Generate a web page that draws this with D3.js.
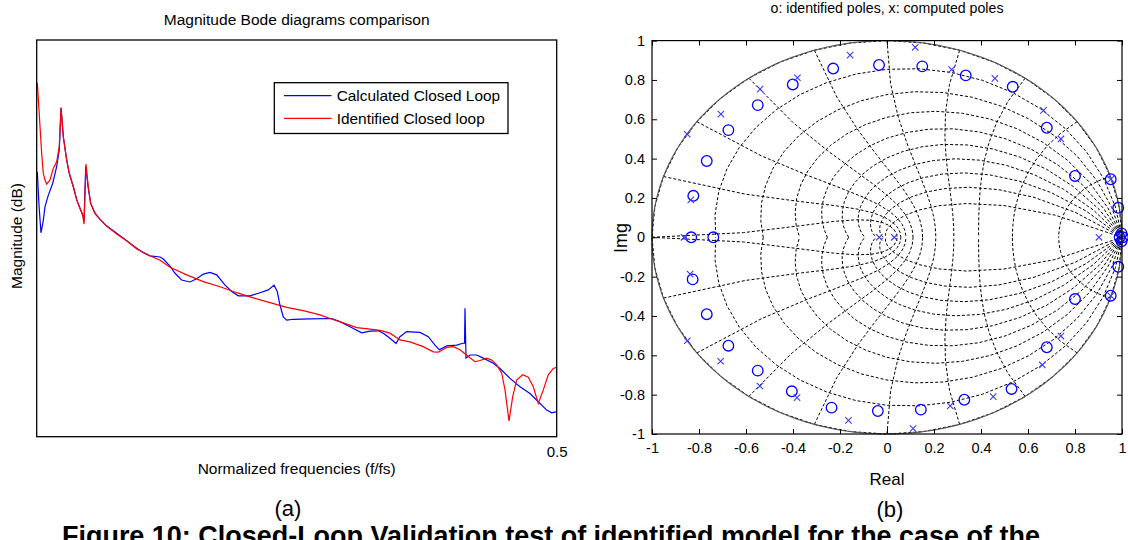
<!DOCTYPE html>
<html><head><meta charset="utf-8">
<script src="https://cdn.jsdelivr.net/npm/d3@7"></script>
<style>html,body{margin:0;padding:0;background:#fff;overflow:hidden}svg{display:block}</style>
</head><body><svg id="c" width="1128" height="540"></svg>
<script>
// ---------- Panel (a): magnitude Bode data ----------
const calcFreq = [0.0006,0.0022,0.0041,0.0061,0.0080,0.0112,0.0154,0.0192,0.0217,0.0234,0.0256,0.0288,0.0313,0.0352,0.0385,0.0416,0.0448,0.0455,0.0471,0.0496,0.0519,0.0561,0.0609,0.0673,0.0769,0.0865,0.0962,0.1025,0.1089,0.1186,0.1217,0.1282,0.1330,0.1394,0.1474,0.1538,0.1602,0.1666,0.1731,0.1811,0.1875,0.1938,0.2051,0.2147,0.2227,0.2282,0.2313,0.2339,0.2371,0.2404,0.2467,0.2628,0.2837,0.2916,0.3013,0.3125,0.3205,0.3285,0.3333,0.3397,0.3455,0.3493,0.3558,0.3686,0.3765,0.3830,0.3871,0.3942,0.4038,0.4089,0.4114,0.4118,0.4128,0.4167,0.4231,0.4294,0.4390,0.4455,0.4551,0.4647,0.4743,0.4823,0.4904,0.4952,0.5000];
const calcDb = [-13.2,-21.6,-28.6,-25.9,-22.0,-19.1,-16.1,-11.9,-7.7,2.9,-4.4,-10.2,-13.6,-17.0,-20.3,-22.4,-24.5,-25.8,-11.9,-17.4,-21.2,-23.7,-25.2,-26.9,-28.7,-30.6,-32.5,-33.6,-34.4,-34.7,-35.2,-37.0,-38.8,-40.5,-41.0,-40.2,-39.0,-38.6,-39.2,-41.8,-43.4,-44.5,-44.5,-43.7,-43.0,-41.8,-43.4,-46.8,-49.8,-50.6,-50.4,-50.3,-50.2,-51.0,-52.3,-53.8,-53.4,-53.3,-53.9,-55.2,-56.5,-54.8,-53.5,-53.7,-54.8,-56.9,-58.1,-57.1,-56.9,-56.5,-56.4,-47.6,-60.2,-59.4,-59.4,-60.2,-61.5,-62.8,-65.3,-67.4,-69.1,-71.2,-73.3,-74.0,-73.7];
const identFreq = [0.0006,0.0032,0.0048,0.0063,0.0080,0.0096,0.0128,0.0160,0.0192,0.0217,0.0234,0.0256,0.0288,0.0313,0.0352,0.0385,0.0416,0.0442,0.0455,0.0474,0.0496,0.0519,0.0561,0.0609,0.0673,0.0769,0.0865,0.0962,0.1089,0.1186,0.1282,0.1442,0.1602,0.1763,0.1923,0.2083,0.2243,0.2404,0.2563,0.2724,0.2820,0.2948,0.3077,0.3205,0.3301,0.3397,0.3493,0.3590,0.3717,0.3813,0.3862,0.3942,0.4006,0.4070,0.4150,0.4214,0.4263,0.4327,0.4375,0.4423,0.4471,0.4503,0.4541,0.4577,0.4615,0.4673,0.4727,0.4775,0.4823,0.4871,0.4919,0.4967,0.5000];
const identDb = [9.2,-1.9,-8.6,-13.6,-15.3,-16.3,-15.3,-12.3,-10.7,-6.9,2.9,-4.4,-10.2,-13.6,-17.0,-20.3,-22.4,-24.1,-26.4,-11.3,-17.0,-21.2,-23.7,-25.2,-26.9,-28.9,-30.6,-32.7,-34.4,-35.5,-37.3,-39.2,-40.9,-42.2,-43.7,-45.0,-46.2,-47.4,-48.2,-49.3,-50.2,-51.3,-52.5,-52.9,-53.2,-53.9,-55.6,-56.1,-57.3,-58.6,-58.7,-57.5,-57.3,-58.1,-59.8,-61.1,-60.8,-60.2,-60.7,-61.9,-64.0,-68.2,-76.0,-69.9,-65.7,-64.4,-65.0,-67.4,-71.6,-68.2,-64.4,-62.8,-62.5];
const legendLabels = ["Calculated Closed Loop", "Identified Closed loop"];
const bodeXTicks = [0.5];

// ---------- Panel (b): poles ----------
const identRe = [-0.824,-0.767,-0.675,-0.550,-0.401,-0.229,-0.034,0.150,0.335,0.535,0.680,0.800,0.952,0.984,
  -0.833,-0.739,0.990,0.998,0.998,1.004,
  -0.827,-0.767,-0.675,-0.550,-0.405,-0.236,-0.039,0.144,0.329,0.530,0.680,0.800,0.952,0.984];
const identIm = [0.211,0.388,0.545,0.672,0.777,0.858,0.876,0.869,0.823,0.765,0.557,0.312,0.295,0.150,
  0,0,0,0.02,-0.02,0,
  -0.214,-0.391,-0.551,-0.678,-0.783,-0.866,-0.883,-0.876,-0.826,-0.771,-0.559,-0.314,-0.297,-0.150];
const compRe = [-0.850,-0.835,-0.707,-0.540,-0.381,-0.157,0.120,0.275,0.459,0.666,0.740,0.952,
  -0.864,-0.033,0.031,0.902,1.000,
  -0.838,-0.850,-0.708,-0.541,-0.383,-0.164,0.111,0.269,0.452,0.661,0.740,0.952];
const compIm = [0.524,0.190,0.626,0.753,0.811,0.926,0.966,0.853,0.808,0.645,0.500,0.295,
  0,0,0,0,0,
  -0.187,-0.526,-0.630,-0.756,-0.815,-0.931,-0.972,-0.857,-0.810,-0.649,-0.502,-0.297];
const pzTicks = [-1,-0.8,-0.6,-0.4,-0.2,0,0.2,0.4,0.6,0.8,1];
// zgrid parameters (MATLAB defaults)
const zetaGrid = [0,0.1,0.2,0.3,0.4,0.5,0.6,0.7,0.8,0.9];
const wnGridPi = [0,0.1,0.2,0.3,0.4,0.5,0.6,0.7,0.8,0.9,1.0];

const svg = d3.select("#c");
const FONT = "'Liberation Sans', Arial, sans-serif";
function fit(sel, w){ const l = sel.node().getComputedTextLength(); const fs = parseFloat(sel.attr("font-size")); sel.attr("font-size", (fs*w/l).toFixed(2)); return sel; }

// ===== Panel (a) =====
const L = {x0:36.7, x1:556.7, y0:40, y1:436.7};
const xL = d3.scaleLinear().domain([0,0.5]).range([L.x0, L.x1]);
const yL = d3.scaleLinear().domain([-80,20]).range([L.y1, L.y0]);
const gA = svg.append("g");
const lineA = d3.line().x(d=>xL(d[0])).y(d=>yL(d[1]));
gA.append("path").datum(calcFreq.map((f,i)=>[f,calcDb[i]])).attr("d",lineA).attr("fill","none").attr("stroke","#0000ff").attr("stroke-width",1.2);
gA.append("path").datum(identFreq.map((f,i)=>[f,identDb[i]])).attr("d",lineA).attr("fill","none").attr("stroke","#ff0000").attr("stroke-width",1.2);
gA.append("rect").attr("x",L.x0).attr("y",L.y0).attr("width",L.x1-L.x0).attr("height",L.y1-L.y0).attr("fill","none").attr("stroke","#000").attr("stroke-width",1.3);
const axA = gA.append("g").attr("transform",`translate(0,${L.y1})`).call(d3.axisBottom(xL).tickValues(bodeXTicks).tickSize(0).tickPadding(10).tickFormat(d=>d.toFixed(1)));
axA.select(".domain").remove();
axA.selectAll("text").attr("font-family",FONT).attr("font-size",15).attr("fill","#000");
fit(gA.append("text").attr("x",(L.x0+L.x1)/2).attr("y",25).attr("text-anchor","middle").attr("font-family",FONT).attr("font-size",15).text("Magnitude Bode diagrams comparison"),266);
gA.append("text").attr("x",(L.x0+L.x1)/2).attr("y",474).attr("text-anchor","middle").attr("font-family",FONT).attr("font-size",15.5).text("Normalized frequencies (f/fs)");
gA.append("text").attr("transform","translate(22,236) rotate(-90)").attr("text-anchor","middle").attr("font-family",FONT).attr("font-size",15.5).text("Magnitude (dB)");
// legend
const lg = gA.append("g");
lg.append("rect").attr("x",274.3).attr("y",82.7).attr("width",233.7).attr("height",50.8).attr("fill","#fff").attr("stroke","#000").attr("stroke-width",1.3);
const lgColors = ["#0000ff","#ff0000"];
legendLabels.forEach((t,i)=>{
  const yy = 95.7 + i*22.6;
  lg.append("line").attr("x1",284).attr("x2",331.5).attr("y1",yy).attr("y2",yy).attr("stroke",lgColors[i]).attr("stroke-width",1.2);
  const tx = lg.append("text").attr("x",336.7).attr("y",yy+5.5).attr("font-family",FONT).attr("font-size",15).text(t);
  if(i===0) fit(tx,163.5);
});
lg.selectAll("text").attr("font-size", lg.select("text").attr("font-size"));
svg.append("text").attr("x",288).attr("y",516).attr("text-anchor","middle").attr("font-family",FONT).attr("font-size",22).text("(a)");

// ===== Panel (b) =====
const R = {x0:652, x1:1122, y0:40.6, y1:434};
const xR = d3.scaleLinear().domain([-1,1]).range([R.x0,R.x1]);
const yR = d3.scaleLinear().domain([-1,1]).range([R.y1,R.y0]);
const gB = svg.append("g");
const lineB = d3.line().x(d=>xR(d[0])).y(d=>yR(d[1]));
// zgrid damping lines
const thetas = d3.range(0,21).map(k=>k*Math.PI/20);
zetaGrid.forEach(z=>{
  const m = Math.tan(Math.asin(z)) + 1e-12;
  [1,-1].forEach(s=>{
    const pts = thetas.map(t=>[Math.exp(-m*t)*Math.cos(t), s*Math.exp(-m*t)*Math.sin(t)]);
    gB.append("path").datum(pts).attr("d",lineB).attr("fill","none").attr("stroke","#000").attr("stroke-width",1).attr("stroke-dasharray","3,2");
  });
});
// zgrid natural-frequency lines
const phis = d3.range(0,11).map(k=>Math.PI/2 + k*Math.PI/20);
wnGridPi.forEach(w=>{
  const wn = w*Math.PI;
  [1,-1].forEach(s=>{
    const pts = phis.map(p=>{const r=Math.exp(wn*Math.cos(p)), a=wn*Math.sin(p); return [r*Math.cos(a), s*r*Math.sin(a)];});
    gB.append("path").datum(pts).attr("d",lineB).attr("fill","none").attr("stroke","#000").attr("stroke-width",1).attr("stroke-dasharray","3,2");
  });
});
// unit circle
gB.append("path").datum(d3.range(0,361).map(a=>[Math.cos(a*Math.PI/180),Math.sin(a*Math.PI/180)])).attr("d",lineB).attr("fill","none").attr("stroke","#555").attr("stroke-width",1.1);
// markers
identRe.forEach((re,i)=>{
  gB.append("circle").attr("cx",xR(re)).attr("cy",yR(identIm[i])).attr("r",5.3).attr("fill","none").attr("stroke","#0000ff").attr("stroke-width",1.3);
});
compRe.forEach((re,i)=>{
  const cx = xR(re), cy = yR(compIm[i]), s = 3.2;
  gB.append("path").attr("d",`M${cx-s},${cy-s}L${cx+s},${cy+s}M${cx-s},${cy+s}L${cx+s},${cy-s}`).attr("stroke","#3a3aff").attr("stroke-width",1.1);
});
// frame and axes
gB.append("rect").attr("x",R.x0).attr("y",R.y0).attr("width",R.x1-R.x0).attr("height",R.y1-R.y0).attr("fill","none").attr("stroke","#000").attr("stroke-width",1.2);
const fmt = d=> d===0 ? "0" : (Number.isInteger(d) ? String(d) : d.toFixed(1));
const axB = gB.append("g").attr("transform",`translate(0,${R.y1})`).call(d3.axisBottom(xR).tickValues(pzTicks).tickSize(-5).tickPadding(9).tickFormat(fmt));
const axL = gB.append("g").attr("transform",`translate(${R.x0},0)`).call(d3.axisLeft(yR).tickValues(pzTicks).tickSize(-5).tickPadding(7).tickFormat(fmt));
const axT = gB.append("g").attr("transform",`translate(0,${R.y0})`).call(d3.axisTop(xR).tickValues(pzTicks).tickSize(-5).tickFormat(""));
const axRt = gB.append("g").attr("transform",`translate(${R.x1},0)`).call(d3.axisRight(yR).tickValues(pzTicks).tickSize(-5).tickFormat(""));
[axB,axL,axT,axRt].forEach(a=>{a.select(".domain").remove(); a.selectAll("line").attr("stroke","#000"); a.selectAll("text").attr("font-family",FONT).attr("font-size",14.5).attr("fill","#000");});
fit(gB.append("text").attr("x",(R.x0+R.x1)/2).attr("y",13).attr("text-anchor","middle").attr("font-family",FONT).attr("font-size",14).text("o: identified poles, x: computed poles"),233);
gB.append("text").attr("x",(R.x0+R.x1)/2).attr("y",485).attr("text-anchor","middle").attr("font-family",FONT).attr("font-size",17).text("Real");
gB.append("text").attr("transform","translate(627,238) rotate(-90)").attr("text-anchor","middle").attr("font-family",FONT).attr("font-size",18).text("Img");
svg.append("text").attr("x",890).attr("y",517).attr("text-anchor","middle").attr("font-family",FONT).attr("font-size",22).text("(b)");

// caption (cut off at bottom, as in the reference)
fit(svg.append("text").attr("x",62).attr("y",545).attr("font-family",FONT).attr("font-weight","bold").attr("font-size",20).text("Figure 10: Closed-Loop Validation test of identified model for the case of the"),978);
</script></body></html>
